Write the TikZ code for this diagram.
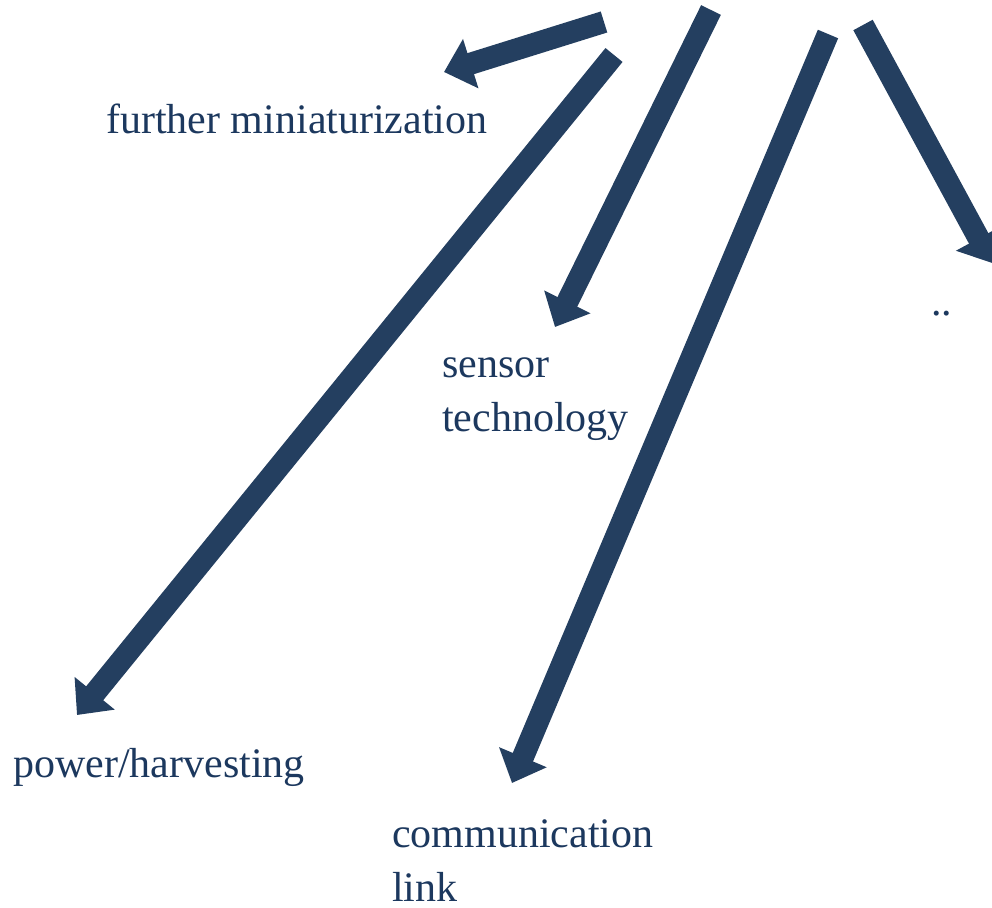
\documentclass[tikz,border=0pt]{standalone}
\usepackage{fontspec}
\setmainfont{Liberation Serif}
\usetikzlibrary{arrows.meta}
\definecolor{navy}{RGB}{36,63,96}
\definecolor{textnavy}{RGB}{28,56,94}
\tikzstyle{bigarrow} = [draw=navy, line width=22pt, -{Triangle[length=28pt, width=50pt]}]
\tikzstyle{label} = [anchor=base west, inner sep=0pt, text=textnavy, align=left, font=\fontsize{42}{54}\selectfont]

\begin{document}
\begin{tikzpicture}[x=1pt, y=-1pt]
        \useasboundingbox (0,0) rectangle (992,907);
        \coordinate (m0) at (604,22);
        \coordinate (m1) at (444,72);
        \coordinate (p0) at (614,55);
        \coordinate (p1) at (77,715);
        \coordinate (s0) at (711,10);
        \coordinate (s1) at (555,327);
        \coordinate (c0) at (828,34);
        \coordinate (c1) at (512,783);
        \coordinate (d0) at (863,25);
        \coordinate (d1) at (992,263);
        \node (mini) [label] at (106,133) {further miniaturization};
        \node (sens) [label] at (442,431) {sensor\\technology};
        \node (power) [label] at (13,777) {power/harvesting};
        \node (comm) [label] at (392,901) {communication\\link};
        \node (dots) [label] at (931,315) {..};
        \draw [bigarrow] (m0) -- (m1);
        \draw [bigarrow] (p0) -- (p1);
        \draw [bigarrow] (s0) -- (s1);
        \draw [bigarrow] (c0) -- (c1);
        \draw [bigarrow] (d0) -- (d1);
    \end{tikzpicture}
\end{document}
